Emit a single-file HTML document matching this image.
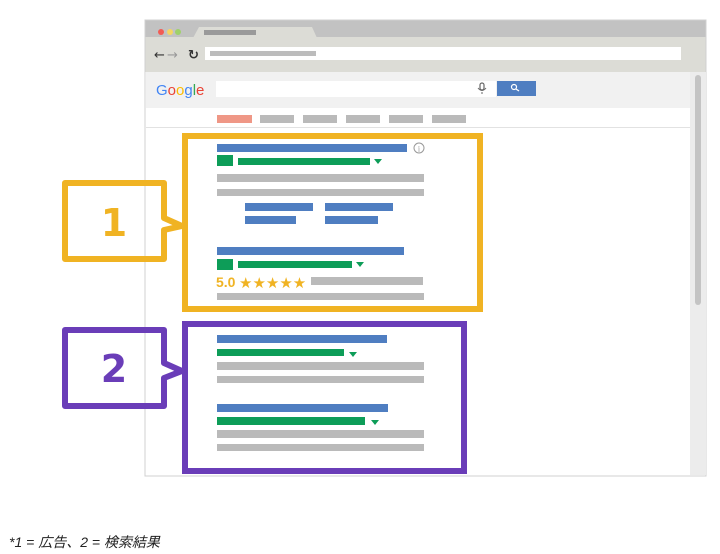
<!DOCTYPE html>
<html><head><meta charset="utf-8"><style>
html,body{margin:0;padding:0;background:#fff;width:720px;height:554px;overflow:hidden}
svg{position:absolute;left:0;top:0}
.ft{position:absolute;left:9px;top:532px;font:italic 14px "Liberation Sans","Noto Sans CJK JP",sans-serif;color:#222}
</style></head><body>
<svg width="720" height="554" viewBox="0 0 720 554" xmlns="http://www.w3.org/2000/svg">
<rect x="145" y="20" width="561" height="456" fill="#fff" stroke="#d0d0d0"/>
<rect x="145.5" y="20.5" width="560" height="17" fill="#c2c2c2"/>
<circle cx="161" cy="32" r="3" fill="#f25c54"/>
<circle cx="170" cy="32" r="3" fill="#f5d662"/>
<circle cx="178" cy="32" r="3" fill="#9fd16a"/>
<polygon points="193,38 199,27 312,27 317,38" fill="#dcdcd6"/>
<rect x="204" y="30" width="52" height="5" fill="#9a9a9a"/>
<rect x="145.5" y="37" width="560" height="35" fill="#dcdcd6"/>
<text x="154" y="59" font-family="DejaVu Sans" font-size="13" fill="#333">←</text>
<text x="167" y="59" font-family="DejaVu Sans" font-size="13" fill="#999">→</text>
<text x="188" y="59" font-family="DejaVu Sans" font-size="13" font-weight="bold" fill="#333">↻</text>
<rect x="205" y="47" width="476" height="13" fill="#fff"/>
<rect x="210" y="51" width="106" height="5" fill="#bcbcbc"/>
<rect x="146" y="72" width="544" height="36" fill="#f1f1f1"/>
<rect x="690" y="72" width="16" height="403" fill="#ececec"/>
<rect x="695" y="75" width="6" height="230" rx="3" fill="#c4c4c4"/>
<text x="156" y="95" font-family="Liberation Sans" font-size="15"><tspan fill="#4285f4">G</tspan><tspan fill="#ea4335">o</tspan><tspan fill="#fbbc05">o</tspan><tspan fill="#4285f4">g</tspan><tspan fill="#34a853">l</tspan><tspan fill="#ea4335">e</tspan></text>
<rect x="216" y="81" width="280" height="16" fill="#fff"/>
<rect x="480" y="83" width="4" height="7" rx="2" fill="none" stroke="#666" stroke-width="1.2"/>
<path d="M478 88 q4 5 8 0 M482 92 v2" fill="none" stroke="#666" stroke-width="1"/>
<rect x="497" y="81" width="39" height="15" fill="#4f7ec1"/>
<circle cx="514" cy="87" r="2.5" fill="none" stroke="#fff" stroke-width="1.2"/>
<line x1="516" y1="89" x2="519" y2="91" stroke="#fff" stroke-width="1.3"/>
<rect x="146" y="108" width="544" height="19" fill="#fff"/>
<line x1="146" y1="127.5" x2="690" y2="127.5" stroke="#e2e2e2"/>
<rect x="217" y="115" width="35" height="8" fill="#ef9786"/>
<g fill="#bababa"><rect x="260" y="115" width="34" height="8"/><rect x="303" y="115" width="34" height="8"/><rect x="346" y="115" width="34" height="8"/><rect x="389" y="115" width="34" height="8"/><rect x="432" y="115" width="34" height="8"/></g>
<g fill="#4f7ec1">
<rect x="217" y="144" width="190" height="8"/>
<rect x="245" y="203" width="68" height="8"/><rect x="325" y="203" width="68" height="8"/>
<rect x="245" y="216" width="51" height="8"/><rect x="325" y="216" width="53" height="8"/>
<rect x="217" y="247" width="187" height="8"/>
<rect x="217" y="335" width="170" height="8"/>
<rect x="217" y="404" width="171" height="8"/>
</g>
<circle cx="419" cy="148" r="5" fill="none" stroke="#999" stroke-width="1"/>
<text x="419" y="151.5" font-family="Liberation Serif" font-size="8" fill="#999" text-anchor="middle">i</text>
<g fill="#0d9d58">
<rect x="217" y="155" width="16" height="11"/><rect x="238" y="158" width="132" height="7"/>
<polygon points="374,159 382,159 378,164"/>
<rect x="217" y="259" width="16" height="11"/><rect x="238" y="261" width="114" height="7"/>
<polygon points="356,262 364,262 360,267"/>
<rect x="217" y="349" width="127" height="7"/><polygon points="349,352 357,352 353,357"/>
<rect x="217" y="417" width="148" height="8"/><polygon points="371,420 379,420 375,425"/>
</g>
<g fill="#bababa">
<rect x="217" y="174" width="207" height="8"/><rect x="217" y="189" width="207" height="7"/>
<rect x="311" y="277" width="112" height="8"/><rect x="217" y="293" width="207" height="7"/>
<rect x="217" y="362" width="207" height="8"/><rect x="217" y="376" width="207" height="7"/>
<rect x="217" y="430" width="207" height="8"/><rect x="217" y="444" width="207" height="7"/>
</g>
<text x="216" y="287" font-family="Liberation Sans" font-size="14" font-weight="bold" fill="#f0b323">5.0</text>
<text x="239" y="288" font-family="DejaVu Sans" font-size="15" fill="#f0b323">★★★★★</text>
<g fill="none" stroke="#f0b323" stroke-width="6" stroke-linejoin="round">
<rect x="185" y="136" width="295" height="173" stroke-linejoin="miter"/>
<path d="M164 218 V183 H65 V259 H164 V230 L182 226 Z"/>
</g>
<text x="114" y="236" font-family="DejaVu Sans" font-size="38" font-weight="bold" fill="#f0b323" text-anchor="middle">1</text>
<g fill="none" stroke="#6a3db8" stroke-width="6" stroke-linejoin="round">
<rect x="185" y="324" width="279" height="147" stroke-linejoin="miter"/>
<path d="M164 363 V330 H65 V406 H164 V378 L182 371 Z"/>
</g>
<text x="114" y="382" font-family="DejaVu Sans" font-size="38" font-weight="bold" fill="#6a3db8" text-anchor="middle">2</text>
</svg>
<div class="ft">*1 = 広告、2 = 検索結果</div>
</body></html>
